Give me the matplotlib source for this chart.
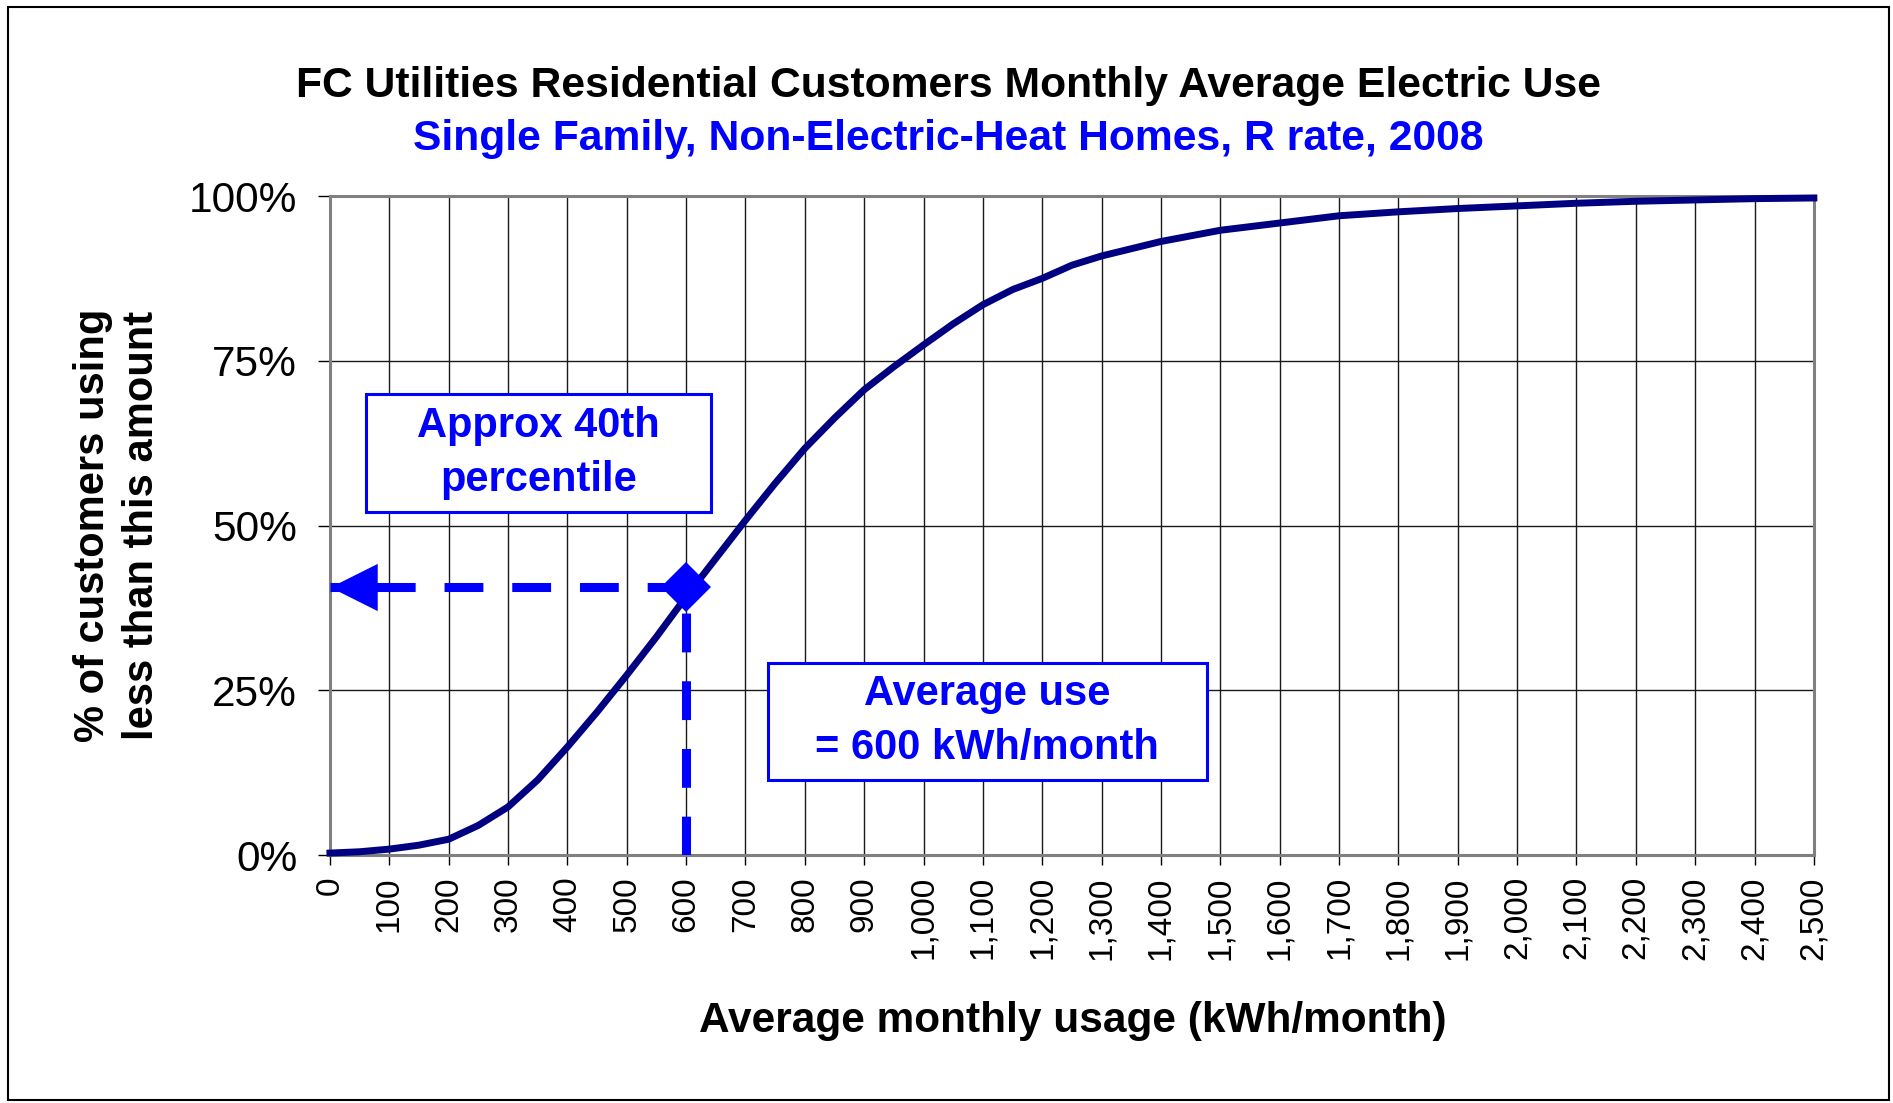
import matplotlib
matplotlib.use("Agg")
import matplotlib.pyplot as plt
from matplotlib.patches import Rectangle
from matplotlib.path import Path

plt.rcParams["font.family"] = ["Liberation Sans", "DejaVu Sans"]

# cumulative share of customers below each usage level
usage_kwh = [0, 50, 100, 150, 200, 250, 300, 350, 400, 450, 500, 550, 600,
             650, 700, 750, 800, 850, 900, 950, 1000, 1050, 1100, 1150, 1200,
             1250, 1300, 1400, 1500, 1600, 1700, 1800, 1900, 2000, 2100, 2200,
             2300, 2400, 2500]
pct_customers = [0.3, 0.5, 0.9, 1.5, 2.4, 4.5, 7.3, 11.4, 16.4, 21.7, 27.3,
                 33.1, 39.2, 45.0, 50.8, 56.4, 61.7, 66.3, 70.6, 74.1, 77.4,
                 80.6, 83.5, 85.8, 87.5, 89.5, 90.9, 93.1, 94.8, 95.9, 97.0,
                 97.6, 98.1, 98.5, 98.9, 99.2, 99.4, 99.6, 99.7]

x_tick_values = list(range(0, 2501, 100))
x_tick_labels = ["{:,}".format(v) for v in x_tick_values]
y_tick_values = [0, 25, 50, 75, 100]
y_tick_labels = ["0%", "25%", "50%", "75%", "100%"]

avg_use = 600
pct_at_avg = 40.7

title = "FC Utilities Residential Customers Monthly Average Electric Use"
subtitle = "Single Family, Non-Electric-Heat Homes, R rate, 2008"
note_pct = "Approx 40th\npercentile"
note_avg = "Average use\n= 600 kWh/month"

NAVY = "#000080"
BLUE = "#0000FF"

fig = plt.figure(figsize=(18.93, 11.03), dpi=100)
ax = fig.add_axes([0.1743, 0.2248, 0.7839, 0.5975])

# curve
ax.plot(usage_kwh, pct_customers, color=NAVY, lw=5, zorder=3,
        clip_on=False, solid_joinstyle="round")

ax.set_xlim(0, 2500)
ax.set_ylim(0, 100)
ax.set_xticks(x_tick_values)
ax.set_xticklabels(x_tick_labels, rotation=90, fontsize=24)
ax.set_yticks(y_tick_values)
ax.set_yticklabels(y_tick_labels, fontsize=30.5)
ax.tick_params(axis="x", length=7.2, width=1, pad=8)
ax.tick_params(axis="y", length=8.6, width=1, pad=15)
ax.grid(True, color="#1a1a1a", lw=1.0)
for s in ax.spines.values():
    s.set_color("#808080")
    s.set_linewidth(2.2)

# dashed guides from the average-use point
dash = (4.3, 3.2)
ax.plot([avg_use, 0], [pct_at_avg, pct_at_avg], color=BLUE, lw=6.5,
        dashes=dash, dash_capstyle="butt", zorder=5)
ax.plot([avg_use, avg_use], [0, pct_at_avg], color=BLUE, lw=6.5,
        dashes=dash, dash_capstyle="butt", zorder=5)
head = Path([(0, 0), (1, 0.5), (1, -0.5), (0, 0)],
            [Path.MOVETO, Path.LINETO, Path.LINETO, Path.CLOSEPOLY])
ax.plot(0, pct_at_avg, marker=head, markersize=68, color=BLUE, mew=0,
        clip_on=False, zorder=6)
ax.plot(avg_use, pct_at_avg, marker="D", markersize=25, color=BLUE, mew=0,
        zorder=6)

# text boxes
for (x0, y0, w, h), txt in [((60, 52.1, 582, 17.8), note_pct),
                            ((738, 11.4, 739, 17.8), note_avg)]:
    ax.add_patch(Rectangle((x0, y0), w, h, fc="white", ec=BLUE, lw=2.2,
                           zorder=4))
    ax.text(x0 + w / 2, y0 + h / 2, txt, color=BLUE, fontsize=30,
            fontweight="bold", ha="center", va="center", linespacing=1.45,
            zorder=5)

fig.text(0.501, 0.9123, title, fontsize=30.7, fontweight="bold",
         ha="center", va="baseline")
fig.text(0.501, 0.864, subtitle, fontsize=30.7, fontweight="bold", color=BLUE,
         ha="center", va="baseline")
fig.text(0.5666, 0.0644, "Average monthly usage (kWh/month)", fontsize=30.5,
         fontweight="bold", ha="center", va="baseline")
fig.text(0.0621, 0.524, "% of customers using\nless than this amount",
         fontsize=30, fontweight="bold", rotation=90, ha="center",
         va="center", linespacing=1.3)

# outer frame
fig.patches.append(Rectangle((0.0042, 0.0027), 0.9937, 0.991, fill=False,
                             ec="black", lw=1.5, transform=fig.transFigure))

fig.savefig("out.png", dpi=100)
